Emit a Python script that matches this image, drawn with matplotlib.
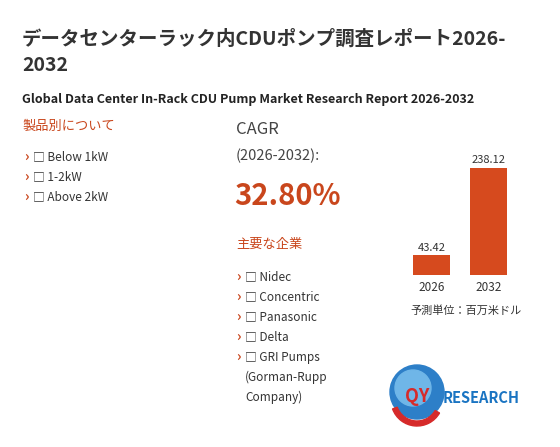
import matplotlib
matplotlib.use("Agg")
import matplotlib.pyplot as plt
from matplotlib.patches import Circle, Wedge

plt.rcParams['font.family'] = ['Noto Sans CJK JP', 'DejaVu Sans']

title_jp = "データセンターラック内CDUポンプ調査レポート2026-\n2032"
title_en = "Global Data Center In-Rack CDU Pump Market Research Report 2026-2032"
seg_header = "製品別について"
segments = ["Below 1kW", "1-2kW", "Above 2kW"]
comp_header = "主要な企業"
companies = ["Nidec", "Concentric", "Panasonic", "Delta", "GRI Pumps", "(Gorman-Rupp", "Company)"]
cagr_value = "32.80%"
years = ["2026", "2032"]
values = [43.42, 238.12]
unit_note = "予測単位：百万米ドル"

W, H = 560, 447
fig = plt.figure(figsize=(W/100, H/100), dpi=100)
fig.patch.set_facecolor("white")
def T(x, y, s, **kw):
    fig.text(x/W, 1 - y/H, s, **kw)

orange = "#c9461c"
dark = "#333333"
T(22, 52, title_jp, fontsize=14, fontweight="bold", color=dark, va="center", linespacing=1.5)
T(22, 100, title_en, fontsize=9, fontweight="bold", color="#222222", va="center")
T(22, 126, seg_header, fontsize=9.5, color=orange, va="center")
for i, s in enumerate(segments):
    y = 157 + i*20
    T(24, y, "›", fontsize=10, color=orange, va="center", fontweight="bold")
    T(33, y, "□ " + s, fontsize=8.5, color=dark, va="center")

T(236, 130, "CAGR", fontsize=12, color="#444444", va="center")
T(236, 156, "(2026-2032):", fontsize=10.5, color="#444444", va="center")
T(234, 196, cagr_value, fontsize=21, fontweight="bold", color=orange, va="center")
T(236, 244, comp_header, fontsize=9.5, color=orange, va="center")
for i, c in enumerate(companies):
    y = 277 + i*20
    if i <= 4:
        T(236, y, "›", fontsize=10, color=orange, va="center", fontweight="bold")
        T(245, y, "□ " + c, fontsize=8.5, color=dark, va="center")
    else:
        T(245, y, c, fontsize=8.5, color=dark, va="center")

ax = fig.add_axes([400/W, (H-275)/H, 120/W, 107/H])
ax.bar([0, 1], values, width=0.66, color="#d64a1e")
ax.set_xlim(-0.55, 1.55)
ax.set_ylim(0, max(values))
for i, v in enumerate(values):
    ax.text(i, v + 6, f"{v:.2f}", ha="center", va="bottom", fontsize=8, color=dark, clip_on=False)
ax.set_xticks([0, 1])
ax.set_xticklabels(years, fontsize=8.5, color=dark)
ax.tick_params(length=0, pad=4)
for s in ax.spines.values():
    s.set_visible(False)
ax.set_yticks([])
ax.patch.set_alpha(0)
T(410, 311, unit_note, fontsize=8, color=dark, va="center")

lax = fig.add_axes([385/W, (H-430)/H, 150/W, 70/H])
lax.set_xlim(0, 150); lax.set_ylim(0, 70); lax.axis("off")
lax.add_patch(Circle((32, 38), 27, color="#2d7fc8"))
lax.add_patch(Circle((28, 42), 18, color="#6fb6e8"))
lax.add_patch(Wedge((32, 30), 26, 200, 330, width=5, color="#d62a2a"))
lax.text(20, 34, "QY", fontsize=13, fontweight="bold", color="#d62a2a", va="center")
lax.text(58, 32, "RESEARCH", fontsize=10.5, fontweight="bold", color="#1a74c2", va="center")

fig.savefig("out.png", dpi=100)
